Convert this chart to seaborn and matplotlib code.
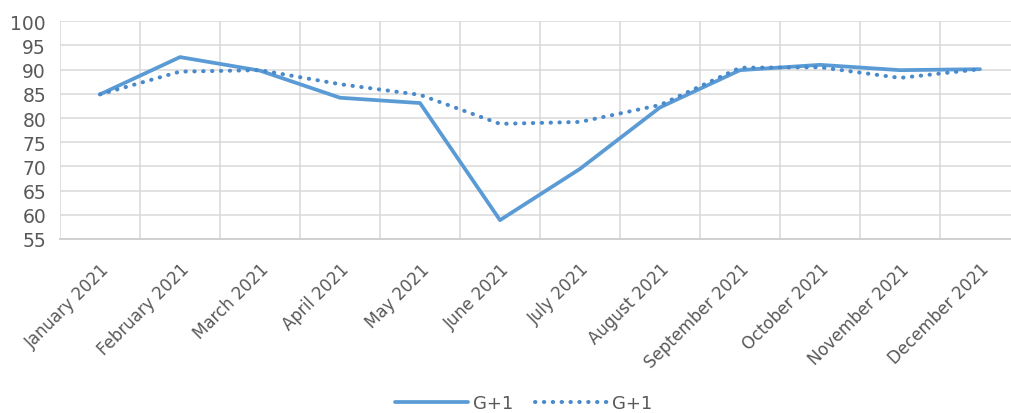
import matplotlib
matplotlib.use('Agg')
import matplotlib.pyplot as plt
import seaborn as sns
import pandas as pd
import numpy as np

months = ['January 2021', 'February 2021', 'March 2021', 'April 2021', 'May 2021',
          'June 2021', 'July 2021', 'August 2021', 'September 2021', 'October 2021',
          'November 2021', 'December 2021']
solid_vals = [84.9, 92.6, 89.8, 84.2, 83.1, 58.9, 69.5, 82.2, 89.9, 91.0, 89.9, 90.1]
dotted_vals = [84.9, 89.6, 89.9, 87.0, 84.8, 78.8, 79.2, 82.7, 90.4, 90.5, 88.3, 90.1]
yticks = [55, 60, 65, 70, 75, 80, 85, 90, 95, 100]

df = pd.DataFrame({'month': months, 'solid': solid_vals, 'dotted': dotted_vals})
df['pos'] = np.arange(len(months))

sns.set_style('white')
plt.rcParams['font.family'] = ['DejaVu Sans']

blue = '#5B9BD5'
grid = '#D9D9D9'
txt = '#595959'

fig = plt.figure(figsize=(10.11, 4.14), dpi=100)
ax = fig.add_axes([60/1011, (414-240)/414, 960/1011, (240-22.3)/414])

sns.lineplot(data=df, x='pos', y='solid', ax=ax, color=blue, lw=2.7, label='G+1')
sns.lineplot(data=df, x='pos', y='dotted', ax=ax, color='#4A8ACB', lw=2.9, label='G+1',
             linestyle=(0, (0.1, 2.1)), dash_capstyle='round')

ax.set_xlim(-0.5, len(months) - 0.5)
ax.set_ylim(55, 100)
ax.set_yticks(yticks)
ax.set_xticks(df['pos'])
ax.set_xticks(np.arange(-0.5, len(months)), minor=True)
ax.set_xticklabels(months, rotation=45, ha='right', rotation_mode='anchor',
                   fontsize=12, color=txt)
ax.tick_params(axis='x', which='both', length=0, pad=15)
ax.tick_params(axis='y', length=0, pad=10, labelsize=13.5, labelcolor=txt)
ax.grid(True, axis='y', color=grid, lw=1.1)
ax.grid(True, axis='x', which='minor', color=grid, lw=1.1)
ax.grid(False, axis='x', which='major')
for s in ['top', 'right', 'left']:
    ax.spines[s].set_visible(False)
ax.spines['bottom'].set_color('#D0D0D0')
ax.spines['bottom'].set_linewidth(1.4)
ax.set_xlabel('')
ax.set_ylabel('')

handles, labels = ax.get_legend_handles_labels()
ax.get_legend().remove()
fig.legend(handles, labels, loc='center', bbox_to_anchor=(524/1011, 1 - 404/414),
           ncol=2, frameon=False, fontsize=13, labelcolor=txt,
           handlelength=4.0, handletextpad=0.3, columnspacing=1.2)

fig.savefig('out.png', dpi=100)
